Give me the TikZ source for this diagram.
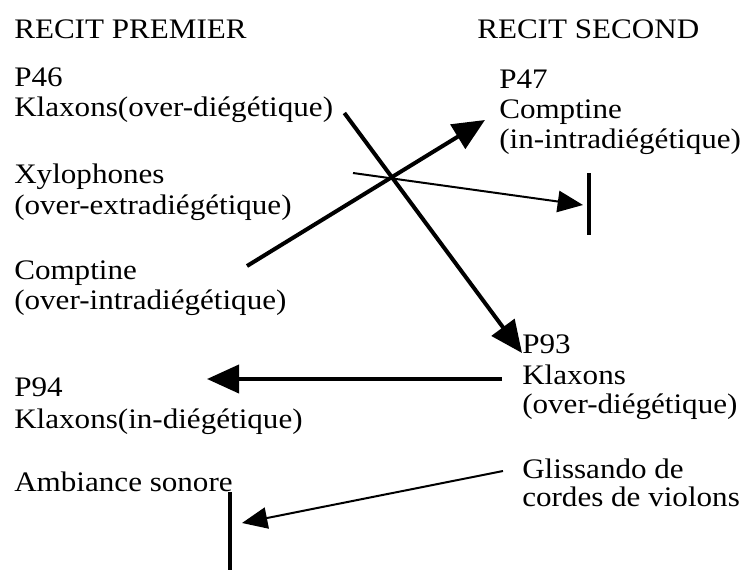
\documentclass[tikz,border=0pt]{standalone}
\usepackage{fontspec}
\setmainfont[FakeStretch=1.1]{Liberation Serif}
\usetikzlibrary{arrows.meta}
\begin{document}
\begin{tikzpicture}[x=0.75pt,y=-0.75pt,
  lbl/.style={anchor=base west, inner sep=0pt, font=\fontsize{21.2pt}{23pt}\selectfont},
  thickarr/.style={line width=3pt, -{Triangle[length=24pt,width=21pt]}},
  thinarr/.style={line width=1.5pt, -{Triangle[length=19pt,width=16pt]}},
  barline/.style={line width=3pt}]
\useasboundingbox (0,0) rectangle (743,571);
% headers
\node[lbl] (h1) at (14,38) {RECIT PREMIER};
\node[lbl] (h2) at (477,38) {RECIT SECOND};
% left column
\node[lbl] (p46) at (14,86) {P46};
\node[lbl] (k46) at (14,116) {Klaxons(over-diégétique)};
\node[lbl] (xyl) at (14,183) {Xylophones};
\node[lbl] (xyl2) at (14,214) {(over-extradiégétique)};
\node[lbl] (cL) at (14,279) {Comptine};
\node[lbl] (cL2) at (14,309) {(over-intradiégétique)};
\node[lbl] (p94) at (14,396) {P94};
\node[lbl] (k94) at (14,428) {Klaxons(in-diégétique)};
\node[lbl] (amb) at (14,491) {Ambiance sonore};
% right column
\node[lbl] (p47) at (499,88) {P47};
\node[lbl] (c47) at (499,118) {Comptine};
\node[lbl] (c47b) at (499,148) {(in-intradiégétique)};
\node[lbl] (p93) at (522,353) {P93};
\node[lbl] (k93) at (522,384) {Klaxons};
\node[lbl] (k93b) at (522,413) {(over-diégétique)};
\node[lbl] (gl) at (522,478) {Glissando de};
\node[lbl] (gl2) at (522,506) {cordes de violons};
% free ends
\coordinate (cstart) at (247,266);
\coordinate (xstart) at (353,173);
\coordinate (bar1top) at (589,173);
\coordinate (bar1bot) at (589,235);
\coordinate (bar1tip) at (583,205);
\coordinate (p94tip) at (207,379);
\coordinate (bar2top) at (230,492);
\coordinate (bar2bot) at (230,570);
\coordinate (bar2tip) at (242,523);
% bars
\draw[barline] (bar1top) -- (bar1bot);
\draw[barline] (bar2top) -- (bar2bot);
% connectors
\draw[thickarr] ([shift={(11,-3)}]k46.base east) -- (p93.base west);
\draw[thickarr] (cstart) -- ([shift={(-14,2)}]c47.base west);
\draw[thinarr] (xstart) -- (bar1tip);
\draw[thickarr] ([shift={(-20,-5)}]k93.base west) -- (p94tip);
\draw[thinarr] ([shift={(-19,-7)}]gl.base west) -- (bar2tip);
\end{tikzpicture}
\end{document}
